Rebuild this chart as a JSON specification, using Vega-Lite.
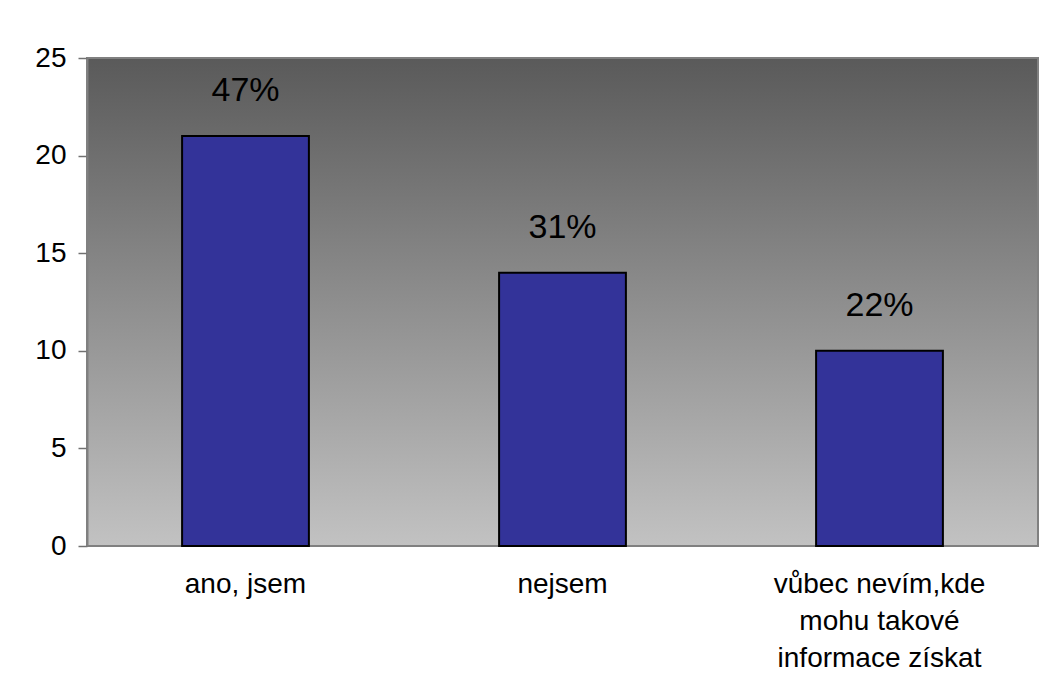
{
  "$schema": "https://vega.github.io/schema/vega-lite/v6.json",
  "width": 951,
  "height": 488,
  "autosize": {"type": "none"},
  "padding": {"left": 87, "top": 58, "right": 1, "bottom": 152},
  "background": "white",
  "config": {
    "font": "Liberation Sans",
    "view": {
      "fill": {"gradient": "linear", "x1": 0, "y1": 0, "x2": 0, "y2": 1, "stops": [{"offset": 0, "color": "#5a5a5a"}, {"offset": 1, "color": "#c2c2c2"}]},
      "stroke": "#808080",
      "strokeWidth": 2
    }
  },
  "data": {
    "values": [
      {"answer": "ano, jsem", "count": 21, "pct": "47%"},
      {"answer": "nejsem", "count": 14, "pct": "31%"},
      {"answer": "vůbec nevím,kde mohu takové informace získat", "count": 10, "pct": "22%"}
    ]
  },
  "encoding": {
    "x": {
      "field": "answer",
      "type": "nominal",
      "sort": null,
      "scale": {"paddingInner": 0.6, "paddingOuter": 0.3},
      "axis": {
        "title": null,
        "labelAngle": 0,
        "ticks": false,
        "domain": false,
        "labelFontSize": 28,
        "labelColor": "black",
        "labelPadding": 24,
        "labelBaseline": "top",
        "labelLineHeight": 37,
        "labelLimit": 400,
        "labelExpr": "datum.value == 'vůbec nevím,kde mohu takové informace získat' ? ['vůbec nevím,kde', 'mohu takové', 'informace získat'] : datum.value"
      }
    },
    "y": {
      "field": "count",
      "type": "quantitative",
      "scale": {"domain": [0, 25], "nice": false},
      "axis": {
        "title": null,
        "values": [0, 5, 10, 15, 20, 25],
        "grid": false,
        "tickSize": 9,
        "tickColor": "#707070",
        "tickWidth": 1.5,
        "domainColor": "#808080",
        "domainWidth": 2,
        "labelFontSize": 28,
        "labelColor": "black",
        "labelPadding": 12
      }
    }
  },
  "layer": [
    {
      "mark": {"type": "bar", "fill": "#333399", "stroke": "black", "strokeWidth": 2}
    },
    {
      "mark": {"type": "text", "fontSize": 34, "color": "black", "baseline": "middle", "dy": -45},
      "encoding": {"text": {"field": "pct"}}
    }
  ]
}
